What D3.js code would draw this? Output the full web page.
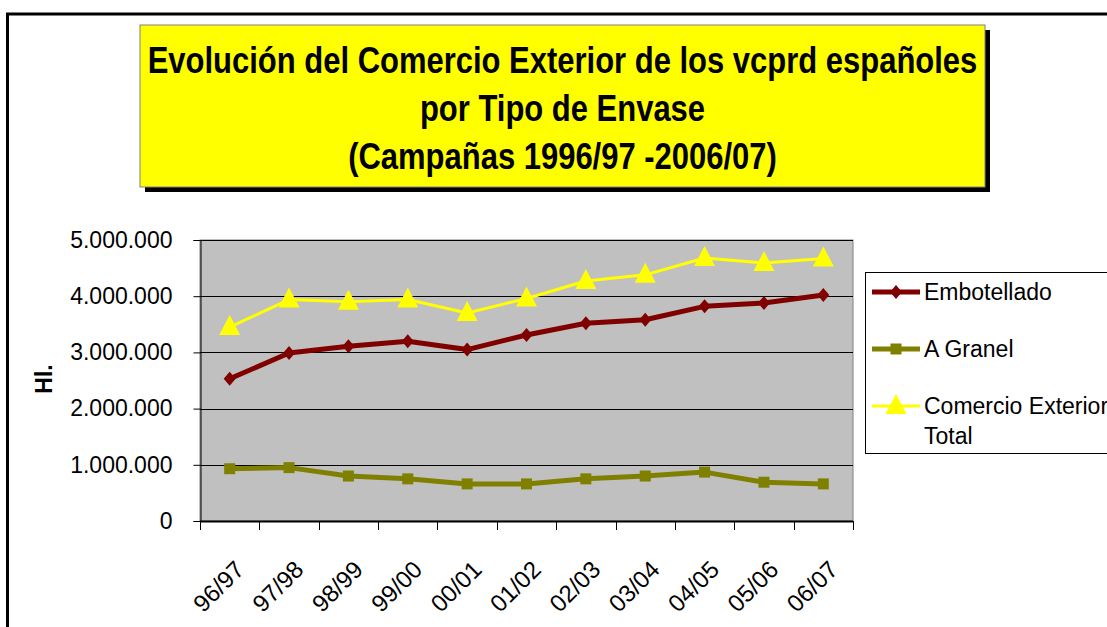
<!DOCTYPE html>
<html>
<head>
<meta charset="utf-8">
<script src="https://cdn.jsdelivr.net/npm/d3@7"></script>
<style>
  body { margin: 0; background: #fff; }
  text { font-family: "Liberation Sans", Arial, sans-serif; }
</style>
</head>
<body>
<div id="chart"></div>
<script>
// campaigns on the x axis
var campaigns = ["96/97", "97/98", "98/99", "99/00", "00/01", "01/02", "02/03", "03/04", "04/05", "05/06", "06/07"];

// volumes in Hl.
var embotellado = [2530000, 2990000, 3110000, 3200000, 3050000, 3310000, 3520000, 3580000, 3820000, 3880000, 4020000];
var granel      = [930000, 950000, 800000, 750000, 660000, 660000, 750000, 800000, 870000, 690000, 660000];
var total       = [3450000, 3940000, 3900000, 3940000, 3700000, 3960000, 4270000, 4380000, 4680000, 4590000, 4670000];

var yTicks = [0, 1000000, 2000000, 3000000, 4000000, 5000000];
var titleLines = ["Evolución del Comercio Exterior de los vcprd españoles", "por Tipo de Envase", "(Campañas 1996/97 -2006/07)"];

var series = [
    { name: ["Embotellado"], values: embotellado, color: "#800000", width: 5, marker: "diamond" },
    { name: ["A Granel"], values: granel, color: "#808000", width: 5, marker: "square" },
    { name: ["Comercio Exterior", "Total"], values: total, color: "#FFFF00", width: 3, marker: "triangle" }
];

var W = 1107, H = 627;
var plot = { left: 200, right: 853, top: 240, bottom: 521 };

var svg = d3.select("#chart").append("svg")
    .attr("width", W)
    .attr("height", H);

// outer chart frame (runs off the right and bottom)
svg.append("rect")
    .attr("x", 7.5).attr("y", 14)
    .attr("width", W + 20).attr("height", H + 20)
    .attr("fill", "#fff")
    .attr("stroke", "#000")
    .attr("stroke-width", 3);

// title box with shadow
var tb = { x: 140, y: 25, w: 845, h: 162 };
svg.append("rect")
    .attr("x", tb.x + 5).attr("y", tb.y + 5)
    .attr("width", tb.w).attr("height", tb.h)
    .attr("fill", "#000");
svg.append("rect")
    .attr("x", tb.x).attr("y", tb.y)
    .attr("width", tb.w).attr("height", tb.h)
    .attr("fill", "#FFFF00")
    .attr("stroke", "#808080")
    .attr("stroke-width", 1);

var titleG = svg.append("g");
var titleTexts = titleG.selectAll("text")
    .data(titleLines)
    .enter().append("text")
    .attr("text-anchor", "middle")
    .attr("font-size", 37)
    .attr("font-weight", "bold")
    .attr("fill", "#000")
    .text(function (d) { return d; });

// squeeze the title horizontally so line 1 spans ~830px
var w0 = titleTexts.nodes()[0].getComputedTextLength();
var sx = 830 / w0;
titleTexts.attr("transform", function (d, i) {
    return "translate(" + (tb.x + tb.w / 2) + "," + (73 + i * 48) + ") scale(" + sx + ",1)";
});

// scales
var x = d3.scaleBand()
    .domain(campaigns)
    .range([plot.left, plot.right]);

var y = d3.scaleLinear()
    .domain([0, 5000000])
    .range([plot.bottom, plot.top]);

var es = d3.formatLocale({ decimal: ",", thousands: ".", grouping: [3], currency: ["", "€"] });
var fmt = es.format(",d");

// plot background
svg.append("rect")
    .attr("x", plot.left).attr("y", plot.top)
    .attr("width", plot.right - plot.left)
    .attr("height", plot.bottom - plot.top)
    .attr("fill", "#C0C0C0")
    .attr("stroke", "#808080")
    .attr("stroke-width", 1);

// gridlines
svg.append("g")
    .selectAll("line")
    .data(yTicks.slice(1))
    .enter().append("line")
    .attr("x1", plot.left).attr("x2", plot.right)
    .attr("y1", function (d) { return Math.round(y(d)) + 0.5; })
    .attr("y2", function (d) { return Math.round(y(d)) + 0.5; })
    .attr("stroke", "#000")
    .attr("stroke-width", 1);

// y axis
var yAxis = svg.append("g")
    .attr("transform", "translate(" + (plot.left + 0.5) + ",0)")
    .call(d3.axisLeft(y).tickValues(yTicks).tickFormat(fmt).tickSize(7).tickPadding(21));
yAxis.select(".domain").attr("stroke", "#000");
yAxis.selectAll(".tick line").attr("stroke", "#000");
yAxis.selectAll("text")
    .attr("font-size", 23)
    .attr("font-family", "Liberation Sans, Arial, sans-serif")
    .attr("fill", "#000");

// x axis line and ticks on category borders
svg.append("line")
    .attr("x1", plot.left).attr("x2", plot.right)
    .attr("y1", plot.bottom + 0.5).attr("y2", plot.bottom + 0.5)
    .attr("stroke", "#000")
    .attr("stroke-width", 2);

var borders = campaigns.map(function (c) { return x(c); }).concat([plot.right]);
svg.append("g")
    .selectAll("line")
    .data(borders)
    .enter().append("line")
    .attr("x1", function (d) { return Math.round(d) + 0.5; })
    .attr("x2", function (d) { return Math.round(d) + 0.5; })
    .attr("y1", plot.bottom)
    .attr("y2", plot.bottom + 9)
    .attr("stroke", "#000");

// rotated campaign labels
svg.append("g")
    .selectAll("text")
    .data(campaigns)
    .enter().append("text")
    .attr("text-anchor", "end")
    .attr("font-size", 24)
    .attr("fill", "#000")
    .attr("transform", function (d) {
        var cx = x(d) + x.bandwidth() / 2;
        return "translate(" + (cx + 16) + ",571) rotate(-45)";
    })
    .text(function (d) { return d; });

// y axis title
svg.append("text")
    .attr("transform", "translate(52,379) rotate(-90)")
    .attr("text-anchor", "middle")
    .attr("font-size", 23)
    .attr("font-weight", "bold")
    .text("Hl.");

// markers
function drawMarker(sel, type, color) {
    if (type === "diamond") {
        sel.append("path")
            .attr("d", "M0,-7L6,0L0,7L-6,0Z")
            .attr("fill", color);
    } else if (type === "square") {
        sel.append("rect")
            .attr("x", -5.5).attr("y", -5.5)
            .attr("width", 11).attr("height", 11)
            .attr("fill", color);
    } else {
        sel.append("path")
            .attr("d", "M0,-12L10.5,8L-10.5,8Z")
            .attr("fill", color);
    }
}

var line = d3.line()
    .x(function (d, i) { return x(campaigns[i]) + x.bandwidth() / 2; })
    .y(function (d) { return y(d); });

series.forEach(function (s) {
    var g = svg.append("g");
    g.append("path")
        .attr("d", line(s.values))
        .attr("fill", "none")
        .attr("stroke", s.color)
        .attr("stroke-width", s.width)
        .attr("stroke-linejoin", "round");

    g.selectAll(".pt")
        .data(s.values)
        .enter().append("g")
        .attr("class", "pt")
        .attr("transform", function (d, i) {
            return "translate(" + (x(campaigns[i]) + x.bandwidth() / 2) + "," + y(d) + ")";
        })
        .each(function () { drawMarker(d3.select(this), s.marker, s.color); });
});

// legend
var lg = svg.append("g");
lg.append("rect")
    .attr("x", 865.5).attr("y", 272.5)
    .attr("width", 300).attr("height", 181)
    .attr("fill", "#fff")
    .attr("stroke", "#000")
    .attr("stroke-width", 1);

var legendY = [292, 349, 406];
series.forEach(function (s, i) {
    var item = lg.append("g")
        .attr("transform", "translate(0," + legendY[i] + ")");
    item.append("line")
        .attr("x1", 872).attr("x2", 920)
        .attr("y1", 0).attr("y2", 0)
        .attr("stroke", s.color)
        .attr("stroke-width", s.width);
    var m = item.append("g").attr("transform", "translate(896,0)");
    drawMarker(m, s.marker, s.color);
    s.name.forEach(function (nm, j) {
        item.append("text")
            .attr("x", 924)
            .attr("y", 8 + j * 30)
            .attr("font-size", 23)
            .attr("fill", "#000")
            .text(nm);
    });
});
</script>
</body>
</html>
